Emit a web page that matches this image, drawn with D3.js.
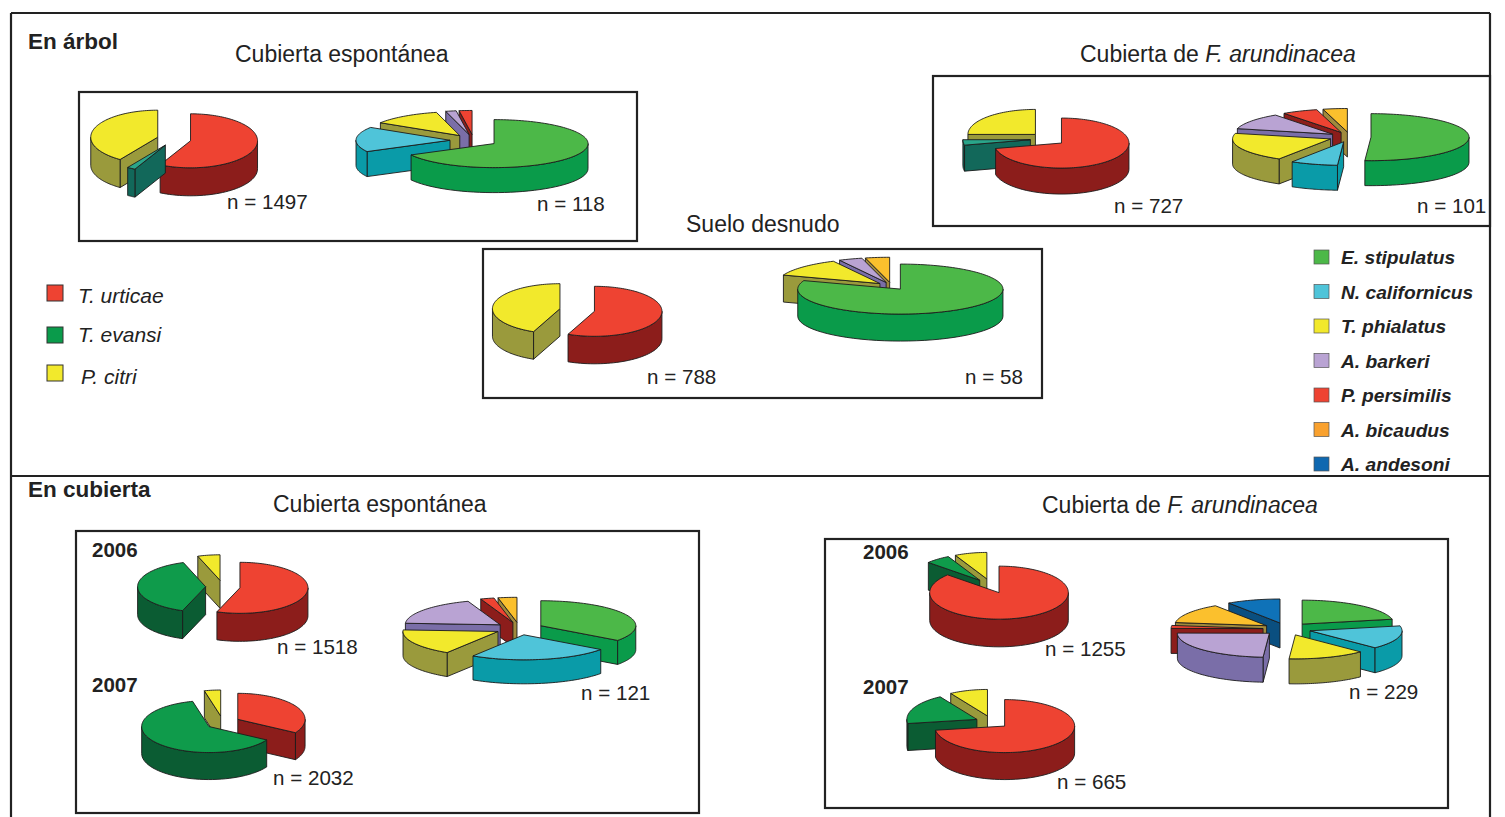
<!DOCTYPE html>
<html>
<head>
    <meta charset="utf-8" />
    <title>En árbol / En cubierta</title>
    <script src="https://d3js.org/d3.v7.min.js"></script>
    <style type="text/css">
        html, body { margin: 0; padding: 0; background: #fff; overflow: hidden; }
        svg { display: block; }
        text { font-family: "Liberation Sans", Arial, sans-serif; fill: #222; }
    </style>
</head>
<body>
<div id="Tu"></div>
<script type="text/javascript">
    // species, in the clockwise order the slices follow from 12 o'clock
    var preyNames = ["T. urticae", "T. evansi", "P. citri"];
    var predatorNames = ["E. stipulatus", "N. californicus", "T. phialatus", "A. barkeri", "P. persimilis", "A. bicaudus", "A. andesoni"];

    // percentages
    var arbolEspontaneaPrey = [57.5, 2, 40.5];
    var arbolEspontaneaPred = [67.2, 16.8, 12, 1.8, 2.2, 0, 0];
    var arbolFestucaPrey = [71.5, 3.5, 25];
    var arbolFestucaPred = [51, 7.8, 20, 11.3, 5.9, 4, 0];
    var sueloPrey = [56.4, 0, 43.6];
    var sueloPred = [80.5, 0, 12, 3.7, 0, 3.8, 0];
    var cubEspontanea2006Prey = [55.5, 39.2, 5.3];
    var cubEspontanea2007Prey = [33.6, 62.5, 3.9];
    var cubEspontaneaPred = [35, 24, 17, 18.5, 2.3, 3.2, 0];
    var cubFestuca2006Prey = [86.7, 5.8, 7.5];
    var cubFestuca2007Prey = [72.5, 18.7, 8.8];
    var cubFestucaPred = [21.7, 15.8, 13.6, 24, 2, 13.5, 9.4];

    // top colour and wall colour per species
    var preyColors = [["#ee4332", "#8c1d1b"], ["#0f9b4b", "#0b5c33"], ["#f2e92c", "#9a9a3c"]];
    var predatorColors = [["#4cb848", "#0a9b4a"], ["#4fc4d9", "#0a9ba8"], ["#f2e92c", "#9a9a3c"], ["#b9a3d3", "#7a6ea8"],
        ["#ee4332", "#8c1d1b"], ["#fbc02d", "#a08a3c"], ["#0f72b8", "#0a4f80"]];
    var preyLegendFill = ["#ee4332", "#0a9b4b", "#f2e92c"];
    var predatorLegendFill = ["#4cb848", "#4fc4d9", "#f2e92c", "#b9a3d3", "#ee4332", "#f9a12e", "#0f68b0"];

    var pies = [
        { values: arbolEspontaneaPrey, colors: preyColors, n: 1497, lx: 227, ly: 209, cx: 174, cy: 139.2, rx: 67, ry: 27, depth: 28, explode: 17, evansiSide: "#12685a" },
        { values: arbolEspontaneaPred, colors: predatorColors, n: 118, lx: 537, ly: 211, cx: 473.7, cy: 140.5, rx: 94, ry: 24, depth: 25, explode: 23.7 },
        { values: arbolFestucaPrey, colors: preyColors, n: 727, lx: 1114, ly: 213, cx: 1047.8, cy: 139, rx: 67.5, ry: 25, depth: 26, explode: 17.5, evansiSide: "#12685a" },
        { values: arbolFestucaPred, colors: predatorColors, n: 101, lx: 1417, ly: 213, cx: 1350, cy: 137, rx: 98, ry: 23.5, depth: 25, explode: 21 },
        { values: sueloPrey, colors: preyColors, n: 788, lx: 647, ly: 384, cx: 577.2, cy: 310, rx: 67.5, ry: 25, depth: 27.5, explode: 17.6 },
        { values: sueloPred, colors: predatorColors, n: 58, lx: 965, ly: 384, cx: 891.5, cy: 286, rx: 102.6, ry: 25, depth: 27, explode: 15.4 },
        { values: cubEspontanea2006Prey, colors: preyColors, n: 1518, lx: 277, ly: 654, cx: 222.9, cy: 586.7, rx: 68, ry: 25.5, depth: 28, explode: 17.3 },
        { values: cubEspontanea2007Prey, colors: preyColors, n: 2032, lx: 273, ly: 785, cx: 222.8, cy: 722.6, rx: 67.3, ry: 26, depth: 27, explode: 17.2 },
        { values: cubEspontaneaPred, colors: predatorColors, n: 121, lx: 581, ly: 700, cx: 519.4, cy: 628.6, rx: 95, ry: 25, depth: 24, explode: 24 },
        { values: cubFestuca2006Prey, colors: preyColors, n: 1255, lx: 1045, ly: 656, cx: 991.3, cy: 586, rx: 69.3, ry: 26.5, depth: 27.7, explode: 19 },
        { values: cubFestuca2007Prey, colors: preyColors, n: 665, lx: 1057, ly: 789, cx: 992, cy: 722, rx: 70, ry: 26.5, depth: 27, explode: 16.6 },
        { values: cubFestucaPred, colors: predatorColors, n: 229, lx: 1349, ly: 699, cx: 1287, cy: 629, rx: 92, ry: 24, depth: 25, explode: 24 }
    ];

    var width = 1505;
    var height = 817;
    var lineColor = "#222";

    var svg = d3.select("#Tu")
        .append("svg")
        .attr("width", width)
        .attr("height", height);

    // frame
    var frameLines = [[11, 13, 1490, 13], [11, 13, 11, 817], [1490, 13, 1490, 817], [11, 476, 1490, 476]];
    svg.selectAll("line.frame")
        .data(frameLines)
        .enter()
        .append("line")
        .attr("class", "frame")
        .attr("x1", function (d) { return d[0]; })
        .attr("y1", function (d) { return d[1]; })
        .attr("x2", function (d) { return d[2]; })
        .attr("y2", function (d) { return d[3]; })
        .attr("stroke", lineColor)
        .attr("stroke-width", 2.2);

    var boxes = [[79, 92, 558, 149], [933, 76, 557, 150], [483, 249, 559, 149], [76, 531, 623, 282], [825, 539, 623, 269]];
    svg.selectAll("rect.box")
        .data(boxes)
        .enter()
        .append("rect")
        .attr("class", "box")
        .attr("x", function (d) { return d[0]; })
        .attr("y", function (d) { return d[1]; })
        .attr("width", function (d) { return d[2]; })
        .attr("height", function (d) { return d[3]; })
        .attr("fill", "none")
        .attr("stroke", lineColor)
        .attr("stroke-width", 2.2);

    // one 3D exploded pie
    var pie = d3.pie().sort(null).value(function (d) { return d; });
    var line = d3.line();

    function drawPie(p) {
        var x = d3.scaleLinear().domain([-1, 1]).range([p.cx - p.rx, p.cx + p.rx]);
        var y = d3.scaleLinear().domain([-1, 1]).range([p.cy - p.ry, p.cy + p.ry]);
        var shift = p.explode / p.rx;

        var slices = pie(p.values)
            .map(function (s) {
                s.species = s.index;
                s.mid = (s.startAngle + s.endAngle) / 2;
                return s;
            })
            .filter(function (s) { return s.value > 0; })
            .sort(function (a, b) { return -Math.cos(a.mid) + Math.cos(b.mid); });

        var g = svg.append("g").attr("class", "pie");

        slices.forEach(function (s) {
            var ox = shift * Math.sin(s.mid);
            var oy = -shift * Math.cos(s.mid);
            function px(r, a) { return x(ox + r * Math.sin(a)); }
            function py(r, a, z) { return y(oy - r * Math.cos(a)) + (z ? p.depth : 0); }

            var top = s.species === 1 && p.evansiSide ? "#2aa58a" : p.colors[s.species][0];
            var side = s.species === 1 && p.evansiSide ? p.evansiSide : p.colors[s.species][1];

            function add(points, fill) {
                g.append("path")
                    .attr("d", line(points) + "Z")
                    .attr("fill", fill)
                    .attr("stroke", "#1c1c1c")
                    .attr("stroke-width", 0.9)
                    .attr("stroke-linejoin", "round");
            }
            function face(a) {
                add([[px(0, 0), py(0, 0, false)], [px(1, a), py(1, a, false)], [px(1, a), py(1, a, true)], [px(0, 0), py(0, 0, true)]], side);
            }

            // cut faces that turn toward the viewer
            if (Math.sin(s.startAngle) < -0.001) face(s.startAngle);
            if (Math.sin(s.endAngle) > 0.001) face(s.endAngle);

            // outer wall, front half only
            var a0 = Math.max(s.startAngle, Math.PI / 2);
            var a1 = Math.min(s.endAngle, Math.PI * 3 / 2);
            if (a1 > a0) {
                var steps = d3.range(0, 41).map(function (i) { return a0 + (a1 - a0) * i / 40; });
                var upper = steps.map(function (a) { return [px(1, a), py(1, a, false)]; });
                var lower = steps.slice().reverse().map(function (a) { return [px(1, a), py(1, a, true)]; });
                add(upper.concat(lower), side);
            }

            // top
            var count = Math.max(4, Math.ceil((s.endAngle - s.startAngle) * 30));
            var rim = d3.range(0, count + 1).map(function (i) {
                var a = s.startAngle + (s.endAngle - s.startAngle) * i / count;
                return [px(1, a), py(1, a, false)];
            });
            add([[px(0, 0), py(0, 0, false)]].concat(rim), top);
        });
    }

    pies.forEach(drawPie);

    // n labels
    svg.selectAll("text.n")
        .data(pies)
        .enter()
        .append("text")
        .attr("class", "n")
        .attr("x", function (d) { return d.lx; })
        .attr("y", function (d) { return d.ly; })
        .attr("font-size", "20.6px")
        .text(function (d) { return "n = " + d.n; });

    // section, panel and year headings
    var sectionLabels = [["En árbol", 28, 49], ["En cubierta", 28, 497]];
    svg.selectAll("text.section")
        .data(sectionLabels)
        .enter()
        .append("text")
        .attr("class", "section")
        .attr("x", function (d) { return d[1]; })
        .attr("y", function (d) { return d[2]; })
        .attr("font-size", "22.5px")
        .attr("font-weight", "bold")
        .text(function (d) { return d[0]; });

    var yearLabels = [["2006", 92, 557], ["2007", 92, 692], ["2006", 863, 559], ["2007", 863, 694]];
    svg.selectAll("text.year")
        .data(yearLabels)
        .enter()
        .append("text")
        .attr("class", "year")
        .attr("x", function (d) { return d[1]; })
        .attr("y", function (d) { return d[2]; })
        .attr("font-size", "20.5px")
        .attr("font-weight", "bold")
        .text(function (d) { return d[0]; });

    var panelTitles = [["Cubierta espontánea", "", 235, 62], ["Cubierta de ", "F. arundinacea", 1080, 62], ["Suelo desnudo", "", 686, 232],
        ["Cubierta espontánea", "", 273, 512], ["Cubierta de ", "F. arundinacea", 1042, 513]];
    var titles = svg.selectAll("text.title")
        .data(panelTitles)
        .enter()
        .append("text")
        .attr("class", "title")
        .attr("x", function (d) { return d[2]; })
        .attr("y", function (d) { return d[3]; })
        .attr("font-size", "23px")
        .attr("xml:space", "preserve");
    titles.append("tspan").text(function (d) { return d[0]; });
    titles.append("tspan").attr("font-style", "italic").text(function (d) { return d[1]; });

    // legends
    var preyLegendY = d3.scaleOrdinal().domain(preyNames).range([293, 335, 373]);
    var preyTextY = d3.scaleOrdinal().domain(preyNames).range([303, 342, 384]);
    var preyTextX = d3.scaleOrdinal().domain(preyNames).range([78, 78, 81]);
    var predatorLegendY = d3.scalePoint().domain(predatorNames).range([257, 464]);

    svg.selectAll("rect.prey")
        .data(preyNames)
        .enter()
        .append("rect")
        .attr("class", "prey")
        .attr("x", 47)
        .attr("y", function (d) { return preyLegendY(d) - 8; })
        .attr("width", 16)
        .attr("height", 16)
        .attr("fill", function (d, i) { return preyLegendFill[i]; })
        .attr("stroke", "#333")
        .attr("stroke-width", 1);
    svg.selectAll("text.prey")
        .data(preyNames)
        .enter()
        .append("text")
        .attr("class", "prey")
        .attr("x", function (d) { return preyTextX(d); })
        .attr("y", function (d) { return preyTextY(d); })
        .attr("font-size", "21px")
        .attr("font-style", "italic")
        .text(function (d) { return d; });

    svg.selectAll("rect.pred")
        .data(predatorNames)
        .enter()
        .append("rect")
        .attr("class", "pred")
        .attr("x", 1314)
        .attr("y", function (d) { return predatorLegendY(d) - 7; })
        .attr("width", 15)
        .attr("height", 14)
        .attr("fill", function (d, i) { return predatorLegendFill[i]; })
        .attr("stroke", "#555")
        .attr("stroke-width", 0.7);
    svg.selectAll("text.pred")
        .data(predatorNames)
        .enter()
        .append("text")
        .attr("class", "pred")
        .attr("x", 1341)
        .attr("y", function (d) { return predatorLegendY(d) + 7; })
        .attr("font-size", "19.2px")
        .attr("font-weight", "bold")
        .attr("font-style", "italic")
        .text(function (d) { return d; });
</script>
</body>
</html>
